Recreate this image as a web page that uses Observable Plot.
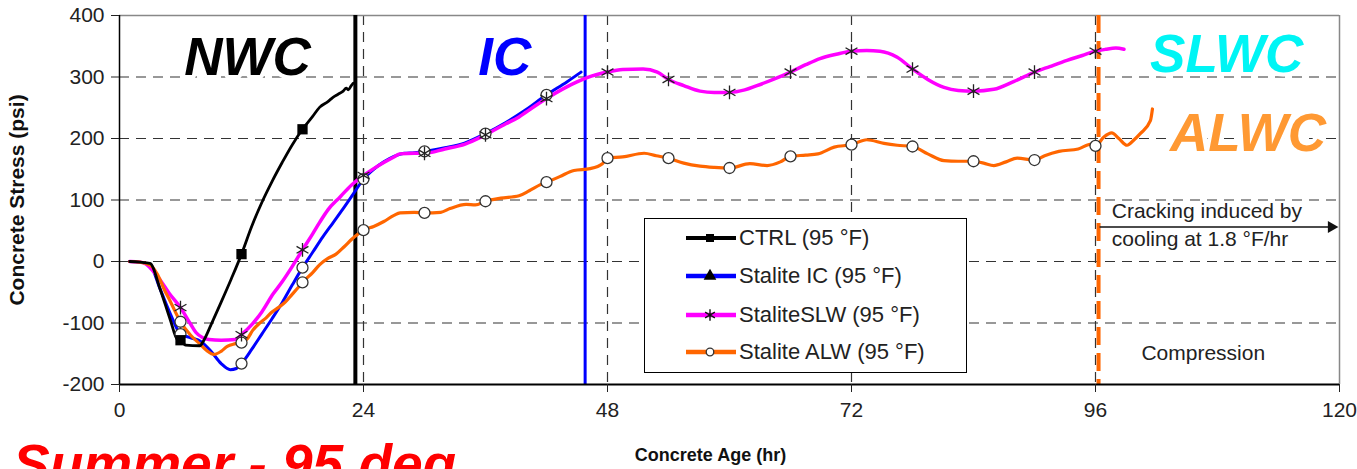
<!DOCTYPE html>
<html><head><meta charset="utf-8">
<script src="https://cdn.jsdelivr.net/npm/d3@7"></script>
<script src="https://cdn.jsdelivr.net/npm/@observablehq/plot@0.6"></script>
<style>
html,body{margin:0;padding:0;background:#fff;overflow:hidden;}
#wrap{position:relative;width:1357px;height:469px;overflow:hidden;font-family:"Liberation Sans",Arial,sans-serif;}
#legend{position:absolute;left:644px;top:218px;width:321px;height:153px;border:1.5px solid #000;background:#fff;}
.row{position:absolute;left:41px;height:38px;display:flex;align-items:center;}
.row span{font-size:22px;color:#222;margin-left:3px;white-space:nowrap;}
#season{position:absolute;left:13px;top:437px;font:italic bold 55px "Liberation Sans",Arial,sans-serif;color:#f00;line-height:55px;white-space:nowrap;}
</style></head>
<body><div id="wrap"></div>
<script>
// ---- axes ----
const xTicks = [0, 24, 48, 72, 96, 120];
const yTicks = [-200, -100, 0, 100, 200, 300, 400];

// ---- series: [age (hr), stress (psi)] ----
const seriesNames = ["CTRL (95 °F)", "Stalite IC (95 °F)", "StaliteSLW (95 °F)", "Stalite ALW (95 °F)"];
const ctrl = [[1,0],[2,-1],[3,-3],[4,-45],[5,-95],[5.7,-127],[6,-128],[6.5,-136],[7.9,-137],[8.3,-128],[9,-103],[10,-66],[11,-28],[12,12],[13,57],[14,96],[15,130],[16,161],[17,190],[18,215],[19,236],[19.7,251],[20.5,260],[21,267],[21.5,272],[22,277],[22.3,282],[22.5,279],[22.8,286],[23,290]];
const ic = [[1,0],[2,-1],[3,-6],[4,-45],[5,-85],[6,-118],[7,-124],[8,-130],[9,-146],[10,-166],[10.9,-176],[11.5,-174],[12,-166],[13,-143],[14,-118],[15,-93],[16,-67],[17,-38],[18,-10],[19,15],[20,40],[21,63],[22,86],[23,110],[24,134],[25,150],[26,162],[27,171],[28,176],[29,177],[30,179],[32,185],[34,193],[36,208],[38,226],[40,247],[42,271],[44,292],[45.4,308]];
const slw = [[1,0],[2,-1],[2.5,-3],[3,-10],[4,-30],[4.9,-52],[6,-75],[7,-102],[7.5,-115],[8.2,-124],[8.8,-127],[10,-128],[11.4,-127],[12,-119],[13.1,-101],[14,-82],[15.1,-53],[16,-33],[17,-8],[18,19],[19,45],[19.7,64],[20.5,84],[21.7,105],[22.8,124],[24,140],[25,151],[26,161],[27,170],[27.6,175],[29,176],[30,176],[32,183],[34,191],[36,206],[38,224],[39.3,235],[40,243],[42,265],[44,284],[45,292],[46,299],[48,308],[49.5,312],[51.5,313],[52.9,308],[54,296],[55.5,286],[57.1,277],[58.5,275],[60,275],[61.5,279],[62.7,286],[64.3,296],[66,308],[67.5,320],[68.9,330],[70.5,337],[72,342],[73.5,343],[74.8,342],[76.5,332],[78,313],[79.5,296],[81.1,283],[82.5,278],[84,277],[86,280],[88,293],[90,308],[91.5,317],[93.2,327],[94.7,335],[96,342],[97,345],[98,347],[98.8,345]];
const alw = [[1,0],[2,-1],[3,-6],[4,-30],[4.3,-42],[5,-65],[6,-98],[7,-120],[7.9,-134],[8.6,-145],[9.3,-151],[10,-146],[10.6,-138],[11.3,-134],[12,-132],[12.6,-125],[13.1,-112],[13.8,-100],[14.4,-92],[15,-82],[15.7,-74],[16.3,-66],[17,-53],[17.6,-42],[18,-34],[19,-18],[19.7,-5],[20.5,5],[21.3,12],[22.1,24],[22.9,37],[23.5,45],[24,51],[25,57],[26,65],[27,75],[27.6,79],[29,80],[30,79],[31.6,80],[32.5,86],[34.1,93],[35,92],[36,98],[37.5,103],[39.3,107],[40.3,115],[41.4,125],[42,129],[43.3,138],[44.7,148],[46.3,151],[47.5,159],[48,168],[49.5,170],[51.6,176],[52.8,172],[54,168],[55.5,160],[57.1,155],[58.5,153],[60,152],[62,159],[63.7,156],[65,162],[66,171],[67.5,173],[68.7,175],[70.3,186],[72,190],[73.5,198],[75.2,192],[76.5,189],[78,187],[79.5,175],[81.1,164],[82.5,163],[84,163],[85,160],[86,156],[87.2,162],[88.3,168],[90,165],[91,172],[92.4,179],[94.3,183],[95.6,191],[96,188],[96.8,202],[97.6,209],[98.3,200],[99.1,189],[99.8,198],[100.4,208],[101.4,229],[101.6,248]];

// ---- annotations (data units) ----
const phaseLines = [23.2, 45.8];          // end of NWC, end of IC
const coolingStart = [96.3];
const regionLabels = ["NWC", "IC", "SLWC", "ALWC"];
const regionAge = [12.6, 37.9, 108.9, 111];
const regionStress = [331, 331, 335, 208];
const crackLines = ["Cracking induced by", "cooling at 1.8 °F/hr"];
const crackAge = [97.6, 97.6];
const crackStress = [70, 24.5];
const crackArrow = [96.4, 119.2, 56];     // from age, to age, stress
const compressionLabel = ["Compression"];
const compressionPos = [106.6, -150];

const pts = a => a.map(([h, v]) => ({h, v}));
const mk = a => pts(a).filter(d => d.h % 6 === 0);

const regionData = regionLabels.map((t, i) => ({t, x: regionAge[i], y: regionStress[i], c: ["#000000", "#0000FF", "#00F5F5", "#FF9933"][i]}));
const crackData = crackLines.map((t, i) => ({t, x: crackAge[i], y: crackStress[i]}));

const grid = {stroke: "#333", strokeWidth: 1.2, strokeDasharray: "10,7"};

const svg = Plot.plot({
  width: 1357, height: 469,
  marginLeft: 119, marginRight: 18, marginTop: 15, marginBottom: 85,
  x: {domain: [0, 120]},
  y: {domain: [-200, 400]},
  style: {fontFamily: '"Liberation Sans", Arial, sans-serif', color: "#222", background: "white", display: "block", overflow: "visible"},
  marks: [
    Plot.ruleY(yTicks.filter(v => v > -200 && v < 400), grid),
    Plot.ruleX(xTicks.filter(v => v > 0 && v < 120), grid),
    Plot.ruleY([400], {stroke: "#888", strokeWidth: 1.5}),
    Plot.ruleX([120], {stroke: "#888", strokeWidth: 1.5}),
    Plot.ruleX([phaseLines[0]], {stroke: "#000", strokeWidth: 4}),
    Plot.ruleX([phaseLines[1]], {stroke: "#0000FF", strokeWidth: 3}),
    Plot.ruleX(coolingStart, {stroke: "#FF6600", strokeWidth: 4, strokeDasharray: "18,8"}),
    Plot.line(pts(ic), {x: "h", y: "v", stroke: "#0000FF", strokeWidth: 3, curve: "monotone-x"}),
    Plot.line(pts(slw), {x: "h", y: "v", stroke: "#FF00FF", strokeWidth: 3.5, curve: "monotone-x"}),
    Plot.line(pts(alw), {x: "h", y: "v", stroke: "#FF6600", strokeWidth: 3.2, curve: "monotone-x"}),
    Plot.line(pts(ctrl), {x: "h", y: "v", stroke: "#000", strokeWidth: 2.8, curve: "monotone-x"}),
    Plot.dot(mk(ic), {x: "h", y: "v", r: 5.5, fill: "white", stroke: "#333", strokeWidth: 1.3}),
    Plot.dot(mk(alw), {x: "h", y: "v", r: 5.5, fill: "white", stroke: "#333", strokeWidth: 1.3}),
    Plot.dot(mk(slw), {x: "h", y: "v", r: 6.5, symbol: "asterisk", stroke: "#222", strokeWidth: 1.3}),
    Plot.dot(mk(ctrl), {x: "h", y: "v", r: 5.8, symbol: "square", fill: "#000", stroke: "none"}),
    Plot.ruleX([0], {stroke: "#000", strokeWidth: 1.5}),
    Plot.ruleY([-200], {stroke: "#000", strokeWidth: 2}),
    Plot.axisX({ticks: xTicks, tickSize: 8, tickPadding: 10, fontSize: 21, label: null, tickFormat: d => String(d)}),
    Plot.axisY({ticks: yTicks, tickSize: 8, tickPadding: 7, fontSize: 21, label: null, tickFormat: d => String(d)}),
    Plot.text(regionData, {x: "x", y: "y", text: "t", fill: "c", fontSize: 53, fontWeight: "bold", fontStyle: "italic", stroke: "white", strokeWidth: 8, paintOrder: "stroke", strokeLinejoin: "round"}),
    Plot.text(crackData, {x: "x", y: "y", text: "t", textAnchor: "start", lineAnchor: "bottom", fontSize: 21, fill: "#222"}),
    Plot.link([{a: crackArrow[0], b: crackArrow[1], s: crackArrow[2]}], {x1: "a", x2: "b", y1: "s", y2: "s", stroke: "#111", strokeWidth: 1.5}),
    Plot.dot([{a: crackArrow[1], s: crackArrow[2]}], {x: "a", y: "s", symbol: "triangle", rotate: 90, r: 4.5, fill: "#111", stroke: "none"}),
    Plot.text(compressionLabel, {x: () => compressionPos[0], y: () => compressionPos[1], text: d => d, fontSize: 21, fill: "#222"}),
    Plot.text(["Concrete Stress (psi)"], {frameAnchor: "left", textAnchor: "middle", lineAnchor: "middle", text: d => d, rotate: -90, dx: -102, fontSize: 21, fontWeight: "bold", fill: "#111"}),
    Plot.text(["Concrete Age (hr)"], {frameAnchor: "bottom", textAnchor: "middle", text: d => d, dx: -19, dy: 76, fontSize: 18, fontWeight: "bold", fill: "#111"})
  ]
});

const wrap = document.getElementById("wrap");
wrap.appendChild(svg);

// ---- legend ----
const legendColors = ["#000000", "#0000FF", "#FF00FF", "#FF6600"];
const legendSymbols = ["square", "triangle", "asterisk", "circle"];
const legendRowTops = [0, 38, 77, 114];
const legend = d3.select(wrap).append("div").attr("id", "legend");
seriesNames.forEach((name, i) => {
  const row = legend.append("div").attr("class", "row").style("top", legendRowTops[i] + "px");
  const s = row.append("svg").attr("width", 50).attr("height", 20);
  s.append("line").attr("x1", 0).attr("x2", 50).attr("y1", 10).attr("y2", 10)
    .attr("stroke", legendColors[i]).attr("stroke-width", i === 0 ? 4 : 4.5).attr("stroke-linecap", "round");
  const g = s.append("g").attr("transform", "translate(24,10)");
  const sym = legendSymbols[i];
  if (sym === "square") g.append("path").attr("d", d3.symbol(d3.symbolSquare, 64)()).attr("fill", "#000");
  if (sym === "triangle") g.append("path").attr("d", d3.symbol(d3.symbolTriangle, 70)()).attr("fill", "#000");
  if (sym === "asterisk") g.append("path").attr("d", d3.symbol(d3.symbolAsterisk, 90)()).attr("stroke", "#111").attr("stroke-width", 1.4).attr("fill", "none");
  if (sym === "circle") g.append("path").attr("d", d3.symbol(d3.symbolCircle, 45)()).attr("fill", "#fff").attr("stroke", "#333").attr("stroke-width", 1.3);
  row.append("span").text(name);
});

// ---- caption ----
d3.select(wrap).append("div").attr("id", "season").text("Summer - 95 deg");
</script></body></html>
